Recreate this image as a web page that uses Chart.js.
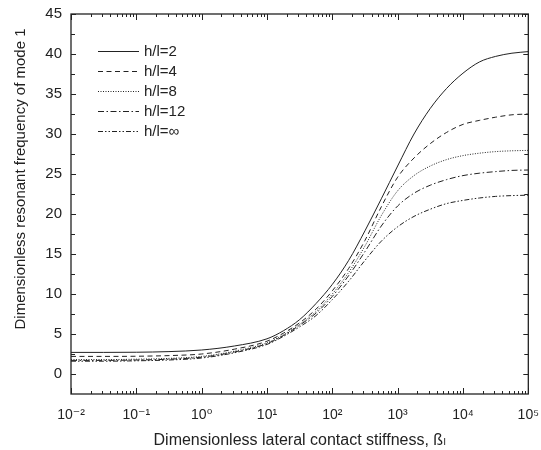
<!DOCTYPE html>
<html>
<head>
<meta charset="utf-8">
<script src="https://cdn.jsdelivr.net/npm/chart.js@4.4.1/dist/chart.umd.min.js"></script>
<style>
  body { margin: 0; background: #fff; }
  #wrap { width: 541px; height: 450px; }
</style>
</head>
<body>
<div id="wrap"><canvas id="myChart"></canvas></div>
<script>
// lateral contact stiffness (log axis)
var beta = [0.01, 0.0316, 0.1, 0.316, 1, 3.16, 10, 17.8, 31.6, 56.2, 100, 178, 316, 562,
            1000, 1780, 3160, 5620, 10000, 17800, 31600, 56200, 100000];

var hl2   = [2.7, 2.7, 2.72, 2.8, 3.0, 3.5, 4.4, 5.4, 6.8, 8.8, 11.2, 14.2, 17.9, 21.9, 26.0, 30.0, 33.2, 35.7, 37.6, 39.0, 39.7, 40.1, 40.3];
var hl4   = [2.2, 2.2, 2.22, 2.3, 2.5, 3.1, 4.1, 5.1, 6.4, 8.1, 10.4, 13.2, 16.7, 20.9, 24.6, 27.0, 28.8, 30.2, 31.2, 31.7, 32.1, 32.4, 32.5];
var hl8   = [1.8, 1.8, 1.85, 1.95, 2.2, 2.85, 3.9, 4.9, 6.2, 7.8, 10.0, 12.7, 16.0, 19.8, 22.9, 24.8, 26.0, 26.8, 27.3, 27.6, 27.8, 27.9, 27.95];
var hl12  = [1.7, 1.7, 1.75, 1.85, 2.1, 2.75, 3.8, 4.8, 6.1, 7.6, 9.7, 12.3, 15.3, 18.5, 21.0, 22.6, 23.6, 24.3, 24.8, 25.1, 25.3, 25.45, 25.5];
var hlInf = [1.6, 1.6, 1.65, 1.75, 2.0, 2.65, 3.7, 4.7, 5.9, 7.3, 9.3, 11.6, 14.2, 16.6, 18.4, 19.7, 20.6, 21.3, 21.7, 22.0, 22.2, 22.3, 22.35];

var seriesNames = ['h/l=2', 'h/l=4', 'h/l=8', 'h/l=12', 'h/l=\u221e'];

var xTickValues = [0.01, 0.1, 1, 10, 100, 1000, 10000, 100000];
var xTickLabels = ['10\u207b\u00b2', '10\u207b\u00b9', '10\u2070', '10\u00b9', '10\u00b2', '10\u00b3', '10\u2074', '10\u2075'];
var yTickValues = [0, 5, 10, 15, 20, 25, 30, 35, 40, 45];

var FONT = "'Liberation Sans', Arial, 'DejaVu Sans', sans-serif";
var INK = '#222';

function pts(ys) {
    return beta.map(function (b, i) { return {x: b, y: ys[i]}; });
}

function serie(label, ys, dash) {
    return {
        label: label,
        data: pts(ys),
        borderColor: INK,
        borderWidth: 1,
        borderDash: dash,
        pointRadius: 0,
        fill: false,
        cubicInterpolationMode: 'monotone'
    };
}

// box round the plot, with inward ticks on all four sides
var frame = {
    id: 'frame',
    afterDraw: function (chart) {
        var ctx = chart.ctx, a = chart.chartArea;
        var xs = chart.scales.x, ys = chart.scales.y;
        ctx.save();
        ctx.strokeStyle = INK;
        ctx.lineWidth = 1.3;
        ctx.strokeRect(a.left, a.top, a.right - a.left, a.bottom - a.top);
        ctx.lineWidth = 1;
        ctx.beginPath();
        for (var e = -2; e <= 5; e++) {
            for (var m = 1; m <= 9; m++) {
                var v = m * Math.pow(10, e);
                if (v > xs.max * 1.0001) break;
                var px = Math.round(xs.getPixelForValue(v)) + 0.5;
                var len = m === 1 ? 6 : 3;
                ctx.moveTo(px, a.bottom); ctx.lineTo(px, a.bottom - len);
                ctx.moveTo(px, a.top); ctx.lineTo(px, a.top + len);
            }
        }
        for (var t = 0; t <= 45; t += 2.5) {
            var py = Math.round(ys.getPixelForValue(t)) + 0.5;
            var l2 = t % 5 === 0 ? 5 : 4;
            ctx.moveTo(a.left, py); ctx.lineTo(a.left + l2, py);
            ctx.moveTo(a.right, py); ctx.lineTo(a.right - l2, py);
        }
        ctx.stroke();
        ctx.restore();
    }
};

// legend inside the plot, top left
var innerLegend = {
    id: 'innerLegend',
    afterDatasetsDraw: function (chart) {
        var ctx = chart.ctx, a = chart.chartArea;
        var x0 = a.left + 27, y0 = a.top + 36.5;
        ctx.save();
        ctx.font = '15px ' + FONT;
        ctx.fillStyle = INK;
        ctx.textBaseline = 'middle';
        chart.data.datasets.forEach(function (ds, i) {
            var y = Math.round(y0 + i * 20) + 0.5;
            ctx.strokeStyle = ds.borderColor;
            ctx.lineWidth = 1;
            ctx.setLineDash(ds.borderDash || []);
            ctx.beginPath();
            ctx.moveTo(x0, y); ctx.lineTo(x0 + 41, y);
            ctx.stroke();
            ctx.setLineDash([]);
            ctx.fillText(ds.label, x0 + 46, y);
        });
        ctx.restore();
    }
};

var ctx = document.getElementById('myChart').getContext('2d');
var chart = new Chart(ctx, {
    type: 'line',
    data: {
        datasets: [
            serie(seriesNames[0], hl2, []),
            serie(seriesNames[1], hl4, [5, 3.5]),
            serie(seriesNames[2], hl8, [1, 1.5]),
            serie(seriesNames[3], hl12, [6, 2.5, 1.5, 2.5]),
            serie(seriesNames[4], hlInf, [5, 2, 1.5, 2, 1.5, 2])
        ]
    },
    options: {
        responsive: true,
        maintainAspectRatio: false,
        animation: false,
        layout: {padding: {top: 14, right: 12, left: 0, bottom: 0}},
        plugins: {legend: {display: false}, tooltip: {enabled: false}},
        scales: {
            x: {
                type: 'logarithmic',
                min: 0.01,
                max: 100000,
                grid: {display: false, tickLength: 11},
                border: {display: false},
                afterBuildTicks: function (s) {
                    s.ticks = xTickValues.map(function (v) { return {value: v}; });
                },
                afterFit: function (s) { s.height = 56; },
                ticks: {
                    autoSkip: false,
                    maxRotation: 0,
                    padding: 2,
                    color: INK,
                    font: {family: FONT, size: 14},
                    callback: function (v) {
                        var i = xTickValues.indexOf(v);
                        return i < 0 ? '' : xTickLabels[i];
                    }
                },
                title: {
                    display: true,
                    text: 'Dimensionless lateral contact stiffness, \u00df\u2097',
                    color: INK,
                    font: {family: FONT, size: 16},
                    padding: {top: 0, bottom: 0}
                }
            },
            y: {
                min: -2.5,
                max: 45,
                grid: {display: false, tickLength: 9},
                border: {display: false},
                afterBuildTicks: function (s) {
                    s.ticks = yTickValues.map(function (v) { return {value: v}; });
                },
                afterFit: function (s) { s.width = 71; },
                ticks: {
                    padding: 0,
                    color: INK,
                    font: {family: FONT, size: 15}
                },
                title: {
                    display: true,
                    // leading spaces lift the text the way the original sits
                    text: '            Dimensionless resonant frequency of mode 1',
                    color: INK,
                    font: {family: FONT, size: 15},
                    padding: {top: 12, bottom: 0}
                }
            }
        }
    },
    plugins: [frame, innerLegend]
});
</script>
</body>
</html>
